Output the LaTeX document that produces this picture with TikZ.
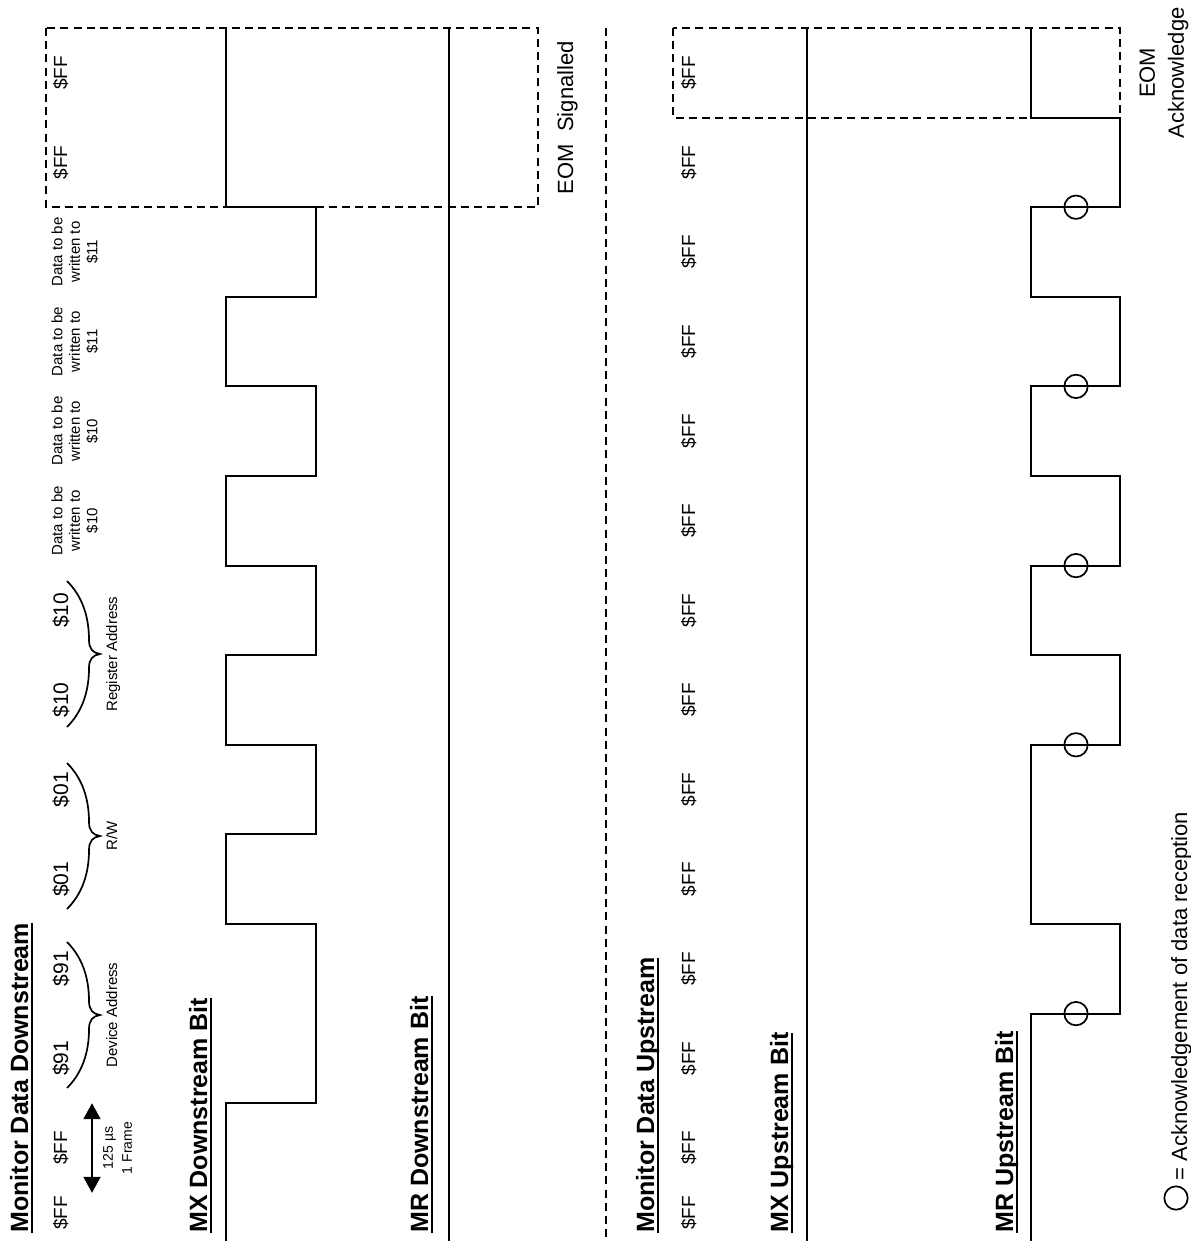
\documentclass[tikz,border=0pt]{standalone}
\usepackage{fontspec}
\setmainfont{Liberation Sans}
\usetikzlibrary{arrows.meta}
\newcommand\myul[1]{\setbox0\hbox{#1}\rlap{\rule[-2.4pt]{\wd0}{1pt}}\box0}
\begin{document}
\begin{tikzpicture}[x=0.5pt,y=-0.5pt,
  wave/.style={line width=1pt, line join=miter},
  dbox/.style={line width=1pt, dash pattern=on 4pt off 2.6pt},
  hdr/.style={rotate=90, anchor=base west, inner sep=0pt, font=\fontsize{12.5}{15}\selectfont\bfseries},
  lab/.style={rotate=90, anchor=base, inner sep=0pt, font=\fontsize{9.5}{11}\selectfont},
  blab/.style={rotate=90, anchor=base, inner sep=0pt, font=\fontsize{10.5}{12}\selectfont},
  small/.style={rotate=90, inner sep=0pt, align=center, font=\fontsize{7.5}{8.75}\selectfont},
  brlab/.style={rotate=90, anchor=base, inner sep=0pt, font=\fontsize{7.5}{9}\selectfont},
  big/.style={rotate=90, inner sep=0pt, font=\fontsize{11}{14.5}\selectfont},
  brc/.style={line width=0.85pt},
  ackc/.style={line width=0.85pt}]
\useasboundingbox (0,0) rectangle (1190,1241);

% headers
\node[hdr] (h1) at (28,1233) {\myul{Monitor Data Downstream}};
\node[hdr] (h2) at (207,1233) {\myul{MX Downstream Bit}};
\node[hdr] (h3) at (428,1233) {\myul{MR Downstream Bit}};
\node[hdr] (h4) at (654,1233) {\myul{Monitor Data Upstream}};
\node[hdr] (h5) at (788,1233) {\myul{MX Upstream Bit}};
\node[hdr] (h6) at (1013,1233) {\myul{MR Upstream Bit}};

% downstream byte labels
\foreach \y/\t [count=\i] in {1213/\$FF,1148/\$FF,162.4/\$FF,72.8/\$FF}
  \node[lab] (d\i) at (67,\y) {\t};
\foreach \y/\t [count=\i] in {1058.4/\$91,968.8/\$91,879.2/\$01,789.6/\$01,700/\$10,610.4/\$10}
  \node[blab] (e\i) at (68,\y) {\t};
\node[small] (dt1) at (75,520.8) {Data to be\\written to\\\$10};
\node[small] (dt2) at (75,431.2) {Data to be\\written to\\\$10};
\node[small] (dt3) at (75,341.6) {Data to be\\written to\\\$11};
\node[small] (dt4) at (75,252) {Data to be\\written to\\\$11};

% braces
\foreach \m in {1015,836,654}
  \draw[brc] (67,\m+73) .. controls (82,\m+58) and (89,\m+38) .. (89,\m+14)
     .. controls (89,\m+5) and (93,\m+1) .. (100,\m)
     .. controls (93,\m-1) and (89,\m-5) .. (89,\m-14)
     .. controls (89,\m-38) and (82,\m-58) .. (67,\m-73);
\node[brlab] (b1) at (117,1015) {Device Address};
\node[brlab] (b2) at (117,836) {R/W};
\node[brlab] (b3) at (117,654) {Register Address};

% frame arrow
\coordinate (fa) at (92,1103.2);
\coordinate (fb) at (92,1192.8);
\draw[line width=1pt,{Triangle[width=8.5pt,length=8pt]}-{Triangle[width=8.5pt,length=8pt]}] (fa) -- (fb);
\node[small, font=\fontsize{7}{9.5}\selectfont] (fr) at (117.5,1148) {125 µs\\1 Frame};

% MX downstream waveform
\draw[wave] (226,1241) -- (226,1103.2) -- (316,1103.2) -- (316,924) -- (226,924)
  -- (226,834.4) -- (316,834.4) -- (316,744.8) -- (226,744.8) -- (226,655.2)
  -- (316,655.2) -- (316,565.6) -- (226,565.6) -- (226,476) -- (316,476)
  -- (316,386.4) -- (226,386.4) -- (226,296.8) -- (316,296.8) -- (316,207.2)
  -- (226,207.2) -- (226,28);
% MR downstream
\draw[wave] (449,28) -- (449,1241);
% EOM signalled box
\draw[dbox] (46,28) rectangle (538,207.2);
\node[big, anchor=base] (eom1) at (573,117.6) {EOM\ \ Signalled};

% separator
\draw[dbox] (606,28) -- (606,1241);

% upstream labels
\foreach \y [count=\i] in {1213,1148,1058.4,968.8,879.2,789.6,700,610.4,520.8,431.2,341.6,252,162.4,72.8}
  \node[lab] (u\i) at (695,\y) {\$FF};

% MX upstream
\draw[wave] (807,28) -- (807,1241);
% MR upstream waveform
\draw[wave] (1031,1241) -- (1031,1013.6) -- (1120,1013.6) -- (1120,924) -- (1031,924)
  -- (1031,744.8) -- (1120,744.8) -- (1120,655.2) -- (1031,655.2) -- (1031,565.6)
  -- (1120,565.6) -- (1120,476) -- (1031,476) -- (1031,386.4) -- (1120,386.4)
  -- (1120,296.8) -- (1031,296.8) -- (1031,207.2) -- (1120,207.2) -- (1120,117.6)
  -- (1031,117.6) -- (1031,28);
\foreach \y in {207.2,386.4,565.6,744.8,1013.6}
  \draw[ackc] (1076,\y) circle[radius=5.85pt];
% EOM acknowledge box
\draw[dbox] (673,28) rectangle (1120,117.6);
\node[big, align=center] (eom2) at (1164,72.8) {EOM\\Acknowledge};

% legend
\draw[ackc] (1176,1198) circle[radius=5.85pt];
\node[big, anchor=base west] (leg) at (1187,1181) {= Acknowledgement of data reception};
\end{tikzpicture}
\end{document}
